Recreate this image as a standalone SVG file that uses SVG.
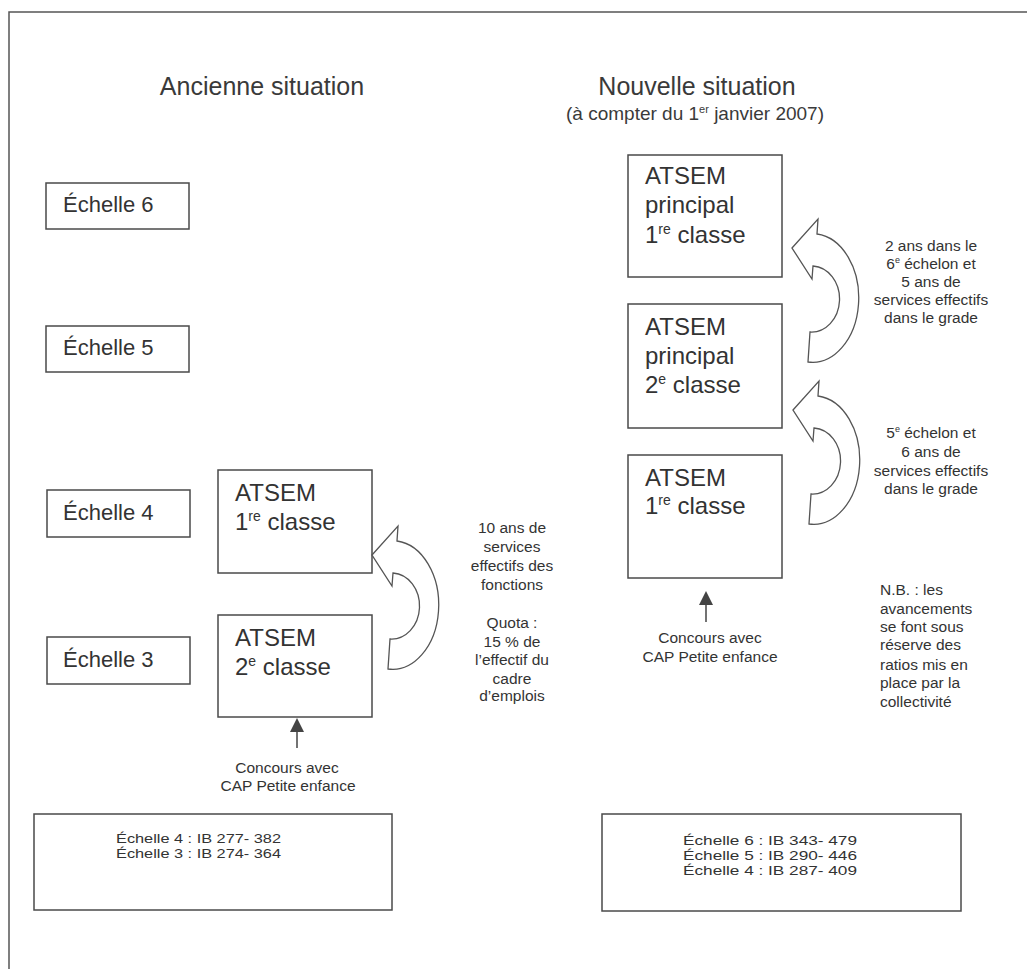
<svg xmlns="http://www.w3.org/2000/svg" xmlns:xlink="http://www.w3.org/1999/xlink" width="1027" height="969" viewBox="0 0 1027 969">
<style>
  text { font-family: "Liberation Sans", Arial, sans-serif; fill: #333; }
  .box { fill: #fff; stroke: #4a4a4a; stroke-width: 1.5; }
  .ech { font-size: 22px; }
  .at { font-size: 24px; }
  .sm { font-size: 15.5px; text-anchor: middle; }
  .nb { font-size: 15.5px; }
  .ib { font-size: 13px; }
  .title { font-size: 25px; text-anchor: middle; fill: #3a3a3a; }
  .sub { font-size: 19px; text-anchor: middle; fill: #3a3a3a; }
  .curve { fill: #fff; stroke: #555; stroke-width: 1.3; stroke-linejoin: miter; }
  .shaft { stroke: #444; stroke-width: 1.5; fill: none; marker-end: url(#tri); }
  .frame { stroke: #555; stroke-width: 1.5; fill: none; }
</style>
<defs>
  <path id="uarrow" d="M0,0 L26,-29 L25,-14 A46,64 0 0 1 16,114 L18,84 A28,33 0 0 0 21,18 L20,31 Z"/>
  <marker id="tri" markerUnits="userSpaceOnUse" markerWidth="14" markerHeight="14" viewBox="0 0 14 14" refX="0" refY="7" orient="auto">
    <path d="M0,0 L14,7 L0,14 Z" fill="#444"/>
  </marker>
</defs>
<rect width="1027" height="969" fill="#fff"/>
<path class="frame" d="M9,969 V12 H1027"/>

<g id="titles">
  <text class="title" x="262" y="95">Ancienne situation</text>
  <text class="title" x="697" y="95">Nouvelle situation</text>
  <text class="sub" x="695" y="120">(à compter du 1<tspan dy="-7" font-size="11">er</tspan><tspan dy="7"> janvier 2007)</tspan></text>
</g>

<g id="echelle6"><rect class="box" x="46" y="183" width="143" height="46"/><text class="ech" x="63" y="212">Échelle 6</text></g>
<g id="echelle5"><rect class="box" x="46" y="326" width="143" height="46"/><text class="ech" x="63" y="355">Échelle 5</text></g>
<g id="echelle4"><rect class="box" x="47" y="490" width="143" height="47"/><text class="ech" x="63" y="520">Échelle 4</text></g>
<g id="echelle3"><rect class="box" x="47" y="637" width="143" height="47"/><text class="ech" x="63" y="667">Échelle 3</text></g>

<g id="atsem1-old"><rect class="box" x="218" y="470" width="154" height="103"/>
  <text class="at" x="235" y="501">ATSEM</text>
  <text class="at" x="235" y="530">1<tspan dy="-9" font-size="14">re</tspan><tspan dy="9"> classe</tspan></text></g>
<g id="atsem2-old"><rect class="box" x="218" y="615" width="154" height="102"/>
  <text class="at" x="235" y="646">ATSEM</text>
  <text class="at" x="235" y="675">2<tspan dy="-9" font-size="14">e</tspan><tspan dy="9"> classe</tspan></text></g>

<g id="principal1"><rect class="box" x="628" y="155" width="154" height="122"/>
  <text class="at" x="645" y="184">ATSEM</text>
  <text class="at" x="645" y="213">principal</text>
  <text class="at" x="645" y="243">1<tspan dy="-9" font-size="14">re</tspan><tspan dy="9"> classe</tspan></text></g>
<g id="principal2"><rect class="box" x="628" y="304" width="154" height="124"/>
  <text class="at" x="645" y="335">ATSEM</text>
  <text class="at" x="645" y="364">principal</text>
  <text class="at" x="645" y="393">2<tspan dy="-9" font-size="14">e</tspan><tspan dy="9"> classe</tspan></text></g>
<g id="atsem1-new"><rect class="box" x="628" y="455" width="154" height="123"/>
  <text class="at" x="645" y="486">ATSEM</text>
  <text class="at" x="645" y="514">1<tspan dy="-9" font-size="14">re</tspan><tspan dy="9"> classe</tspan></text></g>

<g id="connectors">
  <use xlink:href="#uarrow" href="#uarrow" class="curve" transform="translate(372,555)"/>
  <use xlink:href="#uarrow" href="#uarrow" class="curve" transform="translate(792,248)"/>
  <use xlink:href="#uarrow" href="#uarrow" class="curve" transform="translate(793,410)"/>
  <line class="shaft" x1="297" y1="748" x2="297" y2="732"/>
  <line class="shaft" x1="706" y1="622" x2="706" y2="605"/>
</g>

<g id="label-old">
  <text class="sm" x="512" y="533">10 ans de</text>
  <text class="sm" x="512" y="552">services</text>
  <text class="sm" x="512" y="571">effectifs des</text>
  <text class="sm" x="512" y="590">fonctions</text>
  <text class="sm" x="512" y="628">Quota :</text>
  <text class="sm" x="512" y="647">15 % de</text>
  <text class="sm" x="512" y="665">l’effectif du</text>
  <text class="sm" x="512" y="684">cadre</text>
  <text class="sm" x="512" y="701">d’emplois</text>
</g>
<g id="label-up">
  <text class="sm" x="931" y="251">2 ans dans le</text>
  <text class="sm" x="931" y="269">6<tspan dy="-6" font-size="9">e</tspan><tspan dy="6"> échelon et</tspan></text>
  <text class="sm" x="931" y="287">5 ans de</text>
  <text class="sm" x="931" y="305">services effectifs</text>
  <text class="sm" x="931" y="323">dans le grade</text>
</g>
<g id="label-low">
  <text class="sm" x="931" y="438">5<tspan dy="-6" font-size="9">e</tspan><tspan dy="6"> échelon et</tspan></text>
  <text class="sm" x="931" y="457">6 ans de</text>
  <text class="sm" x="931" y="476">services effectifs</text>
  <text class="sm" x="931" y="494">dans le grade</text>
</g>
<g id="concours-old">
  <text class="sm" x="287" y="773">Concours avec</text>
  <text class="sm" x="288" y="791">CAP Petite enfance</text>
</g>
<g id="concours-new">
  <text class="sm" x="710" y="643">Concours avec</text>
  <text class="sm" x="710" y="662">CAP Petite enfance</text>
</g>
<g id="nb">
  <text class="nb" x="880" y="595">N.B. : les</text>
  <text class="nb" x="880" y="614">avancements</text>
  <text class="nb" x="880" y="632">se font sous</text>
  <text class="nb" x="880" y="650">réserve des</text>
  <text class="nb" x="880" y="670">ratios mis en</text>
  <text class="nb" x="880" y="688">place par la</text>
  <text class="nb" x="880" y="707">collectivité</text>
</g>

<g id="ib-old"><rect class="box" x="34" y="814" width="358" height="96"/>
  <text class="ib" x="116" y="843" textLength="165" lengthAdjust="spacingAndGlyphs">Échelle 4 : IB 277- 382</text>
  <text class="ib" x="116" y="858" textLength="165" lengthAdjust="spacingAndGlyphs">Échelle 3 : IB 274- 364</text></g>
<g id="ib-new"><rect class="box" x="602" y="814" width="359" height="97"/>
  <text class="ib" x="683" y="845" textLength="174" lengthAdjust="spacingAndGlyphs">Échelle 6 : IB 343- 479</text>
  <text class="ib" x="683" y="860" textLength="174" lengthAdjust="spacingAndGlyphs">Échelle 5 : IB 290- 446</text>
  <text class="ib" x="683" y="875" textLength="174" lengthAdjust="spacingAndGlyphs">Échelle 4 : IB 287- 409</text></g>
</svg>
